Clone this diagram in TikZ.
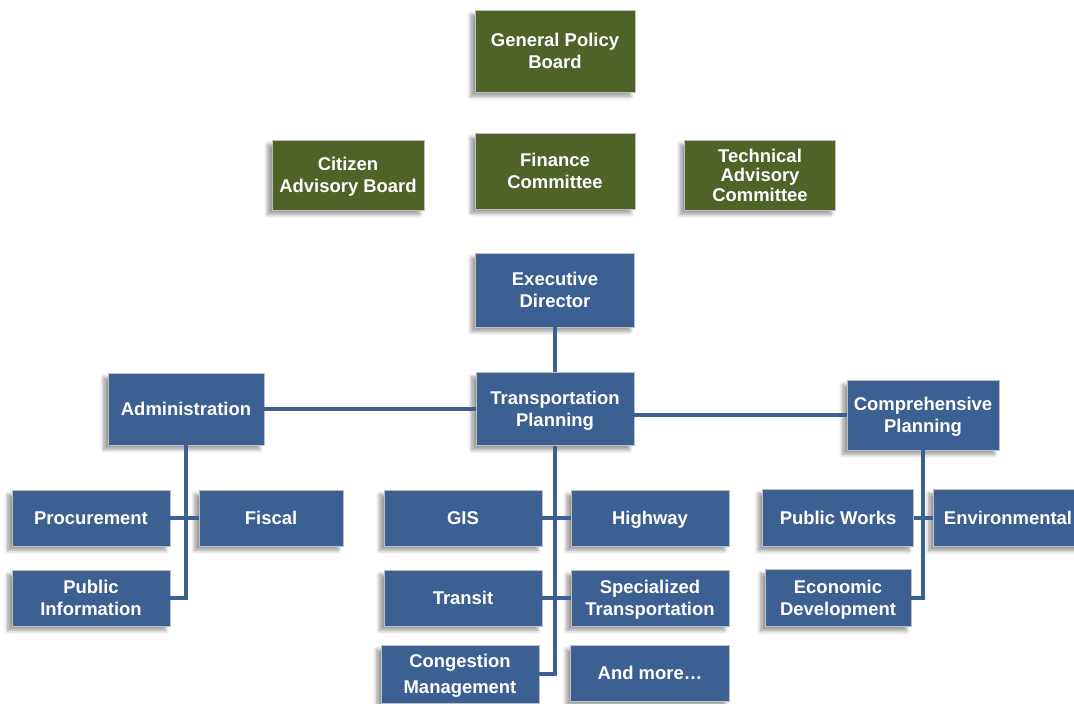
\documentclass[tikz,border=0pt]{standalone}
\usepackage{fontspec}
\setmainfont{Liberation Sans}
\usetikzlibrary{shadows.blur}
\definecolor{boardgreen}{HTML}{4F6228}
\definecolor{staffblue}{HTML}{3C6091}
\tikzset{
  unit/.style={draw=black!25, line width=0.5pt, text=white, align=center, inner sep=1pt, text depth=0pt,
    font=\bfseries\fontsize{10.5}{12.5}\selectfont,
    blur shadow={shadow xshift=-2.5pt, shadow yshift=-2.5pt, shadow blur steps=6, shadow opacity=40}},
  board/.style={unit, fill=boardgreen},
  staff/.style={unit, fill=staffblue},
  link/.style={draw=staffblue, line width=2.2pt},
}
\begin{document}
\begin{tikzpicture}[x=0.02cm, y=-0.02cm]
  \useasboundingbox (0,0) rectangle (1074,703);
  \node[board, minimum width=3.2cm, minimum height=1.64cm] (0) at (555,51) {General Policy\\Board};
  \node[board, minimum width=3.04cm, minimum height=1.4cm] (1) at (348,175) {Citizen\\Advisory Board};
  \node[board, minimum width=3.2cm, minimum height=1.52cm] (2) at (555,171) {Finance\\Committee};
  \node[board, minimum width=3.02cm, minimum height=1.4cm, font=\bfseries\fontsize{10.5}{11}\selectfont] (3) at (760,175) {Technical\\Advisory\\Committee};
  \node[staff, minimum width=3.18cm, minimum height=1.48cm] (4) at (555,290) {Executive\\Director};
  \node[staff, minimum width=3.12cm, minimum height=1.44cm] (5) at (186,409) {Administration};
  \node[staff, minimum width=3.16cm, minimum height=1.46cm] (6) at (555,409) {Transportation\\Planning};
  \node[staff, minimum width=3.04cm, minimum height=1.4cm] (7) at (923,415) {Comprehensive\\Planning};
  \node[staff, minimum width=3.16cm, minimum height=1.12cm] (8) at (91,518) {Procurement};
  \node[staff, minimum width=2.88cm, minimum height=1.12cm] (9) at (271,518) {Fiscal};
  \node[staff, minimum width=3.16cm, minimum height=1.12cm] (10) at (91,598) {Public\\Information};
  \node[staff, minimum width=3.16cm, minimum height=1.12cm] (11) at (463,518) {GIS};
  \node[staff, minimum width=3.16cm, minimum height=1.12cm] (12) at (650,518) {Highway};
  \node[staff, minimum width=3.16cm, minimum height=1.12cm] (13) at (463,598) {Transit};
  \node[staff, minimum width=3.16cm, minimum height=1.12cm] (14) at (650,598) {Specialized\\Transportation};
  \node[staff, minimum width=3.16cm, minimum height=1.16cm, font=\bfseries\fontsize{10.5}{15}\selectfont] (15) at (460,674) {Congestion\\Management};
  \node[staff, minimum width=3.18cm, minimum height=1.12cm] (16) at (650,673) {And more\dots};
  \node[staff, minimum width=3.02cm, minimum height=1.14cm] (17) at (838,518) {Public Works};
  \node[staff, minimum width=3.0cm, minimum height=1.14cm] (18) at (1008,518) {Environmental};
  \node[staff, minimum width=2.92cm, minimum height=1.14cm] (19) at (838,598) {Economic\\Development};
  \draw[link] (4)--(6);
  \draw[link] (5)--(6);
  \draw[link] (7)--(7 -| 6.east);
  \draw[link] (5)|-(10);
  \draw[link] (8)--(9);
  \draw[link] (6)|-(15);
  \draw[link] (11)--(12);
  \draw[link] (13)--(14);
  \draw[link] (7)|-(19);
  \draw[link] (17)--(18);
\end{tikzpicture}
\end{document}
